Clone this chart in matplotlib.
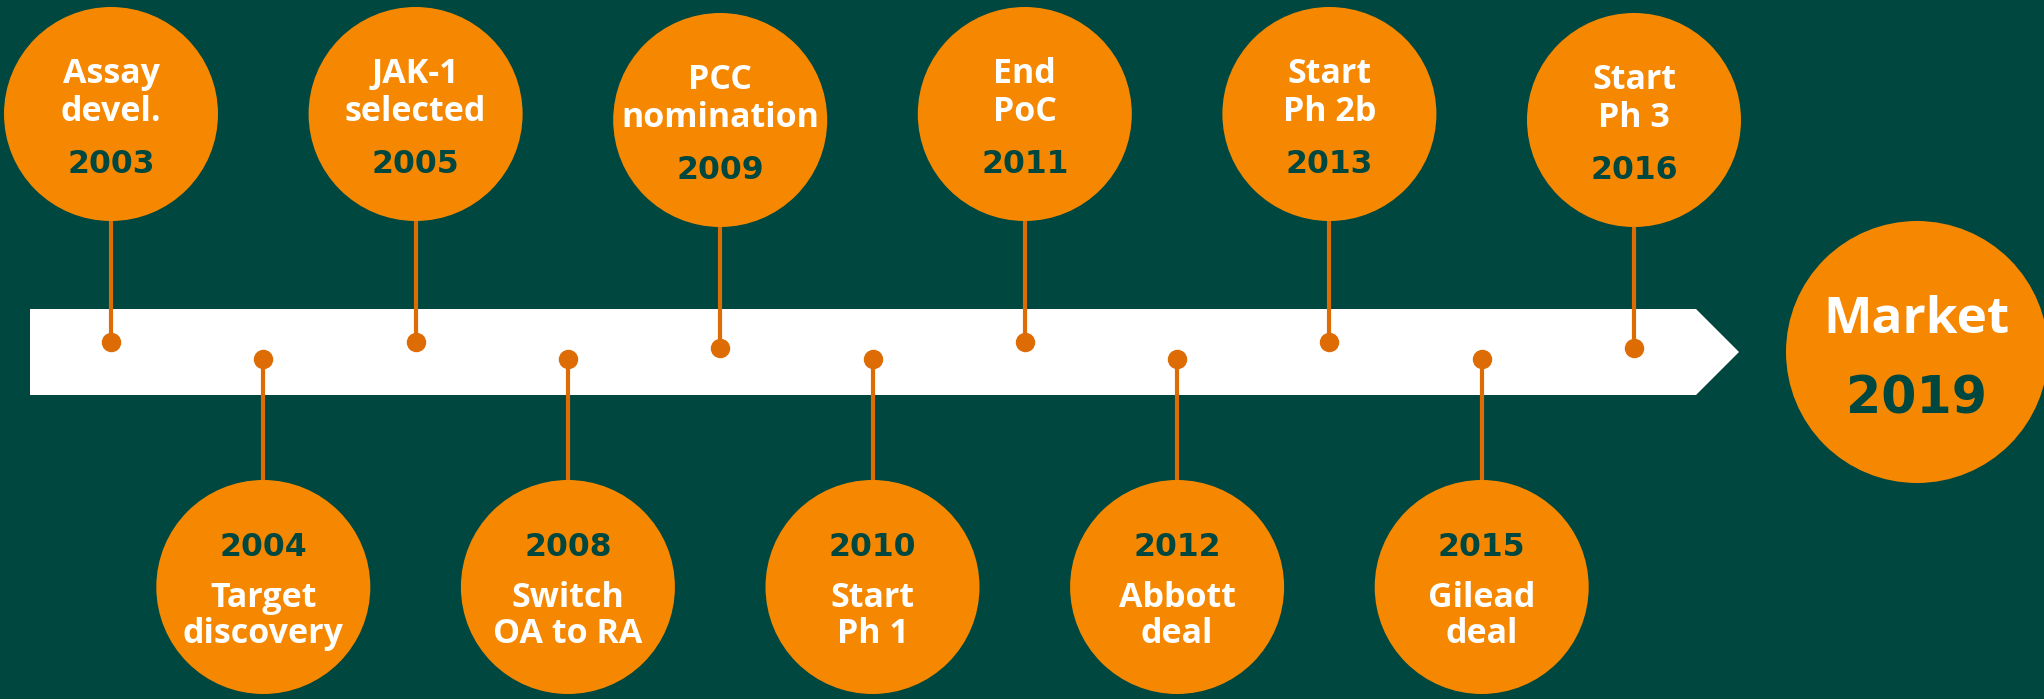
import matplotlib.pyplot as plt
from matplotlib.patches import Circle, Polygon

# ---- data ----
years = [2003, 2004, 2005, 2008, 2009, 2010, 2011, 2012, 2013, 2015, 2016]
labels = ["Assay\ndevel.", "Target\ndiscovery", "JAK-1\nselected", "Switch\nOA to RA",
          "PCC\nnomination", "Start\nPh 1", "End\nPoC", "Abbott\ndeal",
          "Start\nPh 2b", "Gilead\ndeal", "Start\nPh 3"]
sides = ["top", "bottom", "top", "bottom", "top", "bottom",
         "top", "bottom", "top", "bottom", "top"]
final_label = "Market"
final_year = 2019

# ---- style ----
BG = "#00473F"
ORANGE = "#F58800"
STEM = "#DD6C05"
WHITE = "#FFFFFF"
FONT = "Open Sans"
YFONT = "DejaVu Sans"

W, H = 2044, 699
x0, dx = 111, 152.3
r = 107
bar_top, bar_bot = 309, 395
bar_mid = (bar_top + bar_bot) / 2
top_cy, bot_cy = 114, 587
top_dot, bot_dot = 342, 359
lower_set = {2009: 6, 2016: 6}   # these two sit a bit lower in the original

fig = plt.figure(figsize=(W / 100, H / 100), dpi=100, facecolor=BG)
ax = fig.add_axes([0, 0, 1, 1])
ax.set_xlim(0, W)
ax.set_ylim(H, 0)
ax.set_aspect("equal")
ax.axis("off")
ax.set_facecolor(BG)

# white arrow bar
tip = 1739
shoulder = tip - (bar_bot - bar_top) / 2
ax.add_patch(Polygon([(30, bar_top), (shoulder, bar_top), (tip, bar_mid),
                      (shoulder, bar_bot), (30, bar_bot)],
                     closed=True, facecolor=WHITE, edgecolor="none", zorder=1))

for i, (yr, lab, side) in enumerate(zip(years, labels, sides)):
    x = x0 + i * dx
    l1, l2 = lab.split("\n")
    if side == "top":
        shift = lower_set.get(yr, 0)
        cy = top_cy + shift
        dot_y = top_dot + shift
        ax.plot([x, x], [cy, dot_y], color=STEM, lw=3, zorder=2)
        ax.plot(x, dot_y, "o", color=STEM, markersize=13, zorder=3)
        ax.add_patch(Circle((x, cy), r, facecolor=ORANGE, edgecolor="none", zorder=4))
        ax.text(x, cy - 31, l1, ha="center", va="baseline", color=WHITE,
                fontsize=24.5, fontweight="bold", family=FONT, zorder=5)
        ax.text(x, cy + 7, l2, ha="center", va="baseline", color=WHITE,
                fontsize=24.5, fontweight="bold", family=FONT, zorder=5)
        ax.text(x, cy + 59, str(yr), ha="center", va="baseline", color=BG,
                fontsize=22.7, fontweight="bold", family=YFONT, zorder=5)
    else:
        cy = bot_cy
        ax.plot([x, x], [bot_dot, cy], color=STEM, lw=3, zorder=2)
        ax.plot(x, bot_dot, "o", color=STEM, markersize=13, zorder=3)
        ax.add_patch(Circle((x, cy), r, facecolor=ORANGE, edgecolor="none", zorder=4))
        ax.text(x, cy - 31, str(yr), ha="center", va="baseline", color=BG,
                fontsize=22.7, fontweight="bold", family=YFONT, zorder=5)
        ax.text(x, cy + 20, l1, ha="center", va="baseline", color=WHITE,
                fontsize=24.5, fontweight="bold", family=FONT, zorder=5)
        ax.text(x, cy + 56, l2, ha="center", va="baseline", color=WHITE,
                fontsize=24.5, fontweight="bold", family=FONT, zorder=5)

# final milestone
mx, my, mr = 1917, bar_mid, 131
ax.add_patch(Circle((mx, my), mr, facecolor=ORANGE, edgecolor="none", zorder=4))
ax.text(mx, my - 19, final_label, ha="center", va="baseline", color=WHITE,
        fontsize=37, fontweight="bold", family=FONT, zorder=5)
ax.text(mx, my + 61, str(final_year), ha="center", va="baseline", color=BG,
        fontsize=36.5, fontweight="bold", family=YFONT, zorder=5)

fig.savefig("out.png", dpi=100, facecolor=BG)
